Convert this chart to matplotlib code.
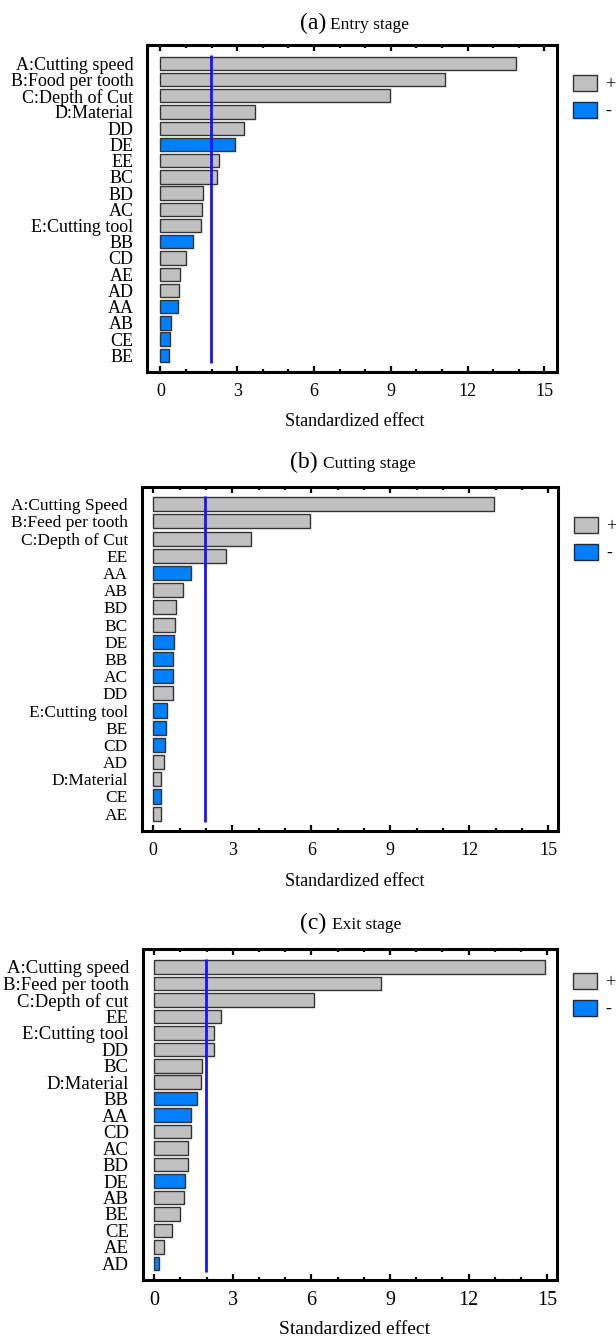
from __future__ import annotations

import matplotlib

matplotlib.use("Agg")
import matplotlib.pyplot as plt
from matplotlib.patches import Patch
from matplotlib.ticker import MultipleLocator


FIG_W, FIG_H = 616, 1338
DPI = 100

GRAY = "#c0c0c0"
BLUE = "#0080ff"
LINE_BLUE = "#1414ff"

ENTRY_LABELS = [
    "A:Cutting speed", "B:Food per tooth", "C:Depth of Cut", "D:Material", "DD", "DE", "EE",
    "BC", "BD", "AC", "E:Cutting tool", "BB", "CD", "AE", "AD", "AA", "AB", "CE", "BE",
]
ENTRY_VALUES = [13.87, 11.11, 8.95, 3.68, 3.26, 2.90, 2.29, 2.20, 1.68, 1.63, 1.58, 1.28, 1.02, 0.76, 0.73, 0.70, 0.40, 0.38, 0.33]
ENTRY_SIGNS = ["+", "+", "+", "+", "+", "-", "+", "+", "+", "+", "+", "-", "+", "+", "+", "-", "-", "-", "-"]

CUTTING_LABELS = [
    "A:Cutting Speed", "B:Feed per tooth", "C:Depth of Cut", "EE", "AA", "AB", "BD", "BC", "DE",
    "BB", "AC", "DD", "E:Cutting tool", "BE", "CD", "AD", "D:Material", "CE", "AE",
]
CUTTING_VALUES = [12.95, 5.95, 3.71, 2.76, 1.43, 1.14, 0.86, 0.82, 0.78, 0.73, 0.73, 0.75, 0.53, 0.48, 0.44, 0.39, 0.30, 0.30, 0.28]
CUTTING_SIGNS = ["+", "+", "+", "+", "-", "+", "+", "+", "-", "-", "-", "+", "-", "-", "-", "+", "+", "-", "+"]

EXIT_LABELS = [
    "A:Cutting speed", "B:Feed per tooth", "C:Depth of cut", "EE", "E:Cutting tool", "DD", "BC",
    "D:Material", "BB", "AA", "CD", "AC", "BD", "DE", "AB", "BE", "CE", "AE", "AD",
]
EXIT_VALUES = [14.91, 8.67, 6.09, 2.53, 2.27, 2.27, 1.83, 1.80, 1.65, 1.41, 1.39, 1.30, 1.30, 1.18, 1.12, 0.99, 0.66, 0.37, 0.17]
EXIT_SIGNS = ["+", "+", "+", "+", "+", "+", "+", "+", "-", "-", "+", "+", "+", "-", "+", "+", "+", "+", "-"]

PANEL_TAGS = ["(a)", "(b)", "(c)"]
PANEL_NAMES = ["Entry stage", "Cutting stage", "Exit stage"]
CRITICAL_VALUES = [1.98, 1.96, 1.96]
X_TICKS = [0, 3, 6, 9, 12, 15]

# pixel layout of each panel: frame box, limits, text positions, font sizes
LAYOUT = [
    dict(box=(147.3, 45, 557, 372), xlim=(-0.51, 15.49), ylim=(19.03, -1.13),
         tag_x=326, name_x=330, title_base=29, xlabel_y=421, legend=(573, 75),
         label_size=13, tick_size=13, xlabel_size=13),
    dict(box=(141.7, 486.7, 558, 830.7), xlim=(-0.44, 15.37), ylim=(18.99, -1.02),
         tag_x=318, name_x=323, title_base=468, xlabel_y=881, legend=(574, 517),
         label_size=12.5, tick_size=13, xlabel_size=13),
    dict(box=(142.7, 949, 557, 1280), xlim=(-0.44, 15.37), ylim=(19.01, -1.09),
         tag_x=326, name_x=332, title_base=929, xlabel_y=1330, legend=(573, 973),
         label_size=13.5, tick_size=14.5, xlabel_size=14),
]


def fx(px: float) -> float:
    return px / FIG_W


def fy(py: float) -> float:
    return 1 - py / FIG_H


def draw_panel(fig, labels, values, signs, tag, name, critical, lay) -> None:
    x0, y0, x1, y1 = lay["box"]
    ax = fig.add_axes([fx(x0), fy(y1), fx(x1) - fx(x0), fy(y0) - fy(y1)])
    colors = [GRAY if s == "+" else BLUE for s in signs]
    rows = list(range(len(labels)))
    ax.barh(rows, values, height=0.82, color=colors, edgecolor="#333333", linewidth=1.0, zorder=2)
    ax.vlines(critical, -0.5, len(labels) - 0.5, color=LINE_BLUE, linewidth=2.0, zorder=3)

    ax.set_xlim(*lay["xlim"])
    ax.set_ylim(*lay["ylim"])
    ax.set_yticks(rows)
    ax.set_yticklabels(labels, fontsize=lay["label_size"])
    ax.tick_params(axis="y", length=0, pad=10)
    ax.set_xticks(X_TICKS)
    ax.xaxis.set_minor_locator(MultipleLocator(1))
    ax.tick_params(axis="x", which="both", direction="in", top=True, bottom=True,
                   labelsize=lay["tick_size"], pad=8)
    ax.tick_params(axis="x", which="major", length=4.5, width=1.6)
    ax.tick_params(axis="x", which="minor", length=2.4, width=1.6)
    for spine in ax.spines.values():
        spine.set_linewidth(2.2)

    fig.text(fx(lay["tag_x"]), fy(lay["title_base"]), tag, ha="right", va="baseline", fontsize=17)
    fig.text(fx(lay["name_x"]), fy(lay["title_base"]), name, ha="left", va="baseline", fontsize=12.5)
    fig.text(fx(355), fy(lay["xlabel_y"]), "Standardized effect", ha="center", va="center",
             fontsize=lay["xlabel_size"])

    handles = [Patch(facecolor=GRAY, edgecolor="#333333", label="+"),
               Patch(facecolor=BLUE, edgecolor="#1a2a40", label="-")]
    lx, ly = lay["legend"]
    ax.legend(handles=handles, loc="upper left", bbox_to_anchor=(fx(lx), fy(ly)),
              bbox_transform=fig.transFigure, frameon=False, fontsize=13,
              handlelength=1.35, handleheight=0.95, handletextpad=0.45,
              labelspacing=0.5, borderpad=0, borderaxespad=0)


def main() -> None:
    plt.rcParams["font.family"] = ["Liberation Serif", "DejaVu Serif"]
    fig = plt.figure(figsize=(FIG_W / DPI, FIG_H / DPI), dpi=DPI)

    panels = [
        (ENTRY_LABELS, ENTRY_VALUES, ENTRY_SIGNS),
        (CUTTING_LABELS, CUTTING_VALUES, CUTTING_SIGNS),
        (EXIT_LABELS, EXIT_VALUES, EXIT_SIGNS),
    ]
    for (labels, values, signs), tag, name, crit, lay in zip(panels, PANEL_TAGS, PANEL_NAMES, CRITICAL_VALUES, LAYOUT):
        draw_panel(fig, labels, values, signs, tag, name, crit, lay)

    fig.savefig("out.png", dpi=DPI)
    plt.close(fig)


if __name__ == "__main__":
    main()
